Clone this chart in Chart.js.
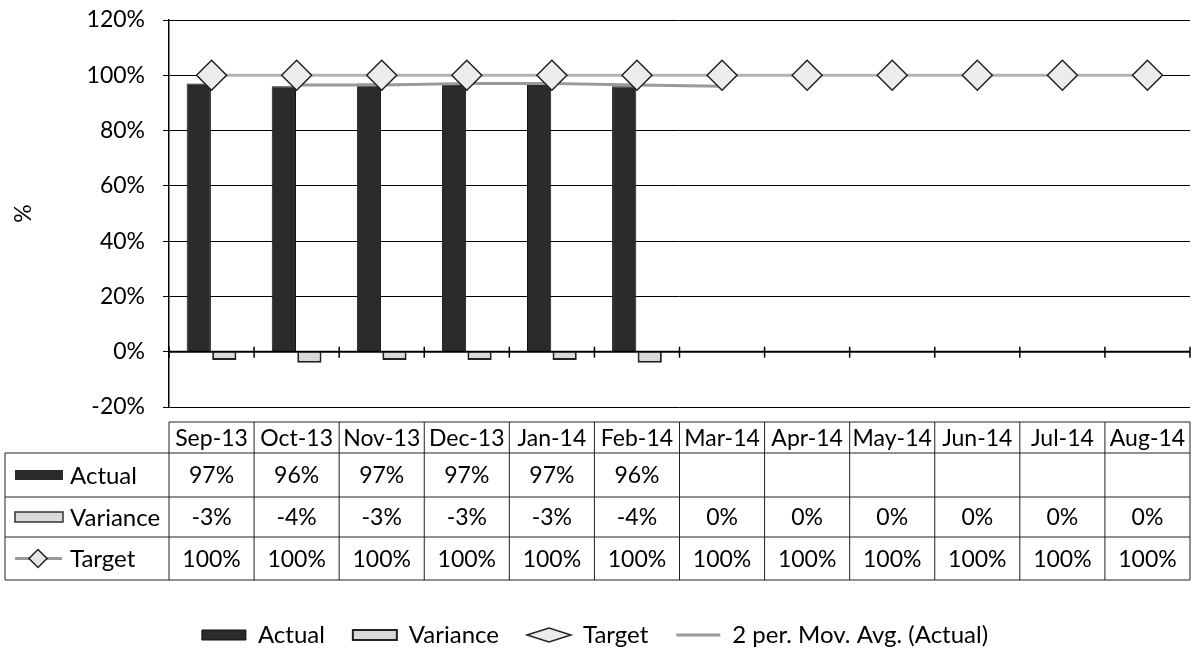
<!DOCTYPE html>
<html>
<head>
<meta charset="utf-8">
<script src="https://cdn.jsdelivr.net/npm/chart.js@4.4.0/dist/chart.umd.min.js"></script>
<style>
  html, body { margin: 0; padding: 0; background: #fff; overflow: hidden; }
  #wrap { width: 1193px; height: 650px; }
  #wrap canvas { display: block; }
</style>
</head>
<body>
<div id="wrap"><canvas id="chart_actual_variance"></canvas></div>
<script>
const months = ['Sep-13', 'Oct-13', 'Nov-13', 'Dec-13', 'Jan-14', 'Feb-14', 'Mar-14', 'Apr-14', 'May-14', 'Jun-14', 'Jul-14', 'Aug-14'];
const actualList = [97, 96, 97, 97, 97, 96, null, null, null, null, null, null];
const varianceList = [-3, -4, -3, -3, -3, -4, 0, 0, 0, 0, 0, 0];
const targetList = [100, 100, 100, 100, 100, 100, 100, 100, 100, 100, 100, 100];
const movAvgList = [null, 96.5, 96.5, 97, 97, 96.5, 96, null, null, null, null, null];
const yTicks = [-20, 0, 20, 40, 60, 80, 100, 120];

const fontName = 'Lato, "Liberation Sans", sans-serif';

// data table under the plot, drawn from the same arrays as the chart
const dataTablePlugin = {
  id: 'dataTable',
  afterDraw(chart) {
    const ctx = chart.ctx;
    const x = chart.scales.x;
    const y = chart.scales.y;
    const area = chart.chartArea;
    const rowLines = [422, 453, 497, 537, 580];
    const labelLeft = 5;
    const colW = (area.right - area.left) / months.length;

    ctx.save();

    // x axis line at 0% with tick marks at category borders
    const y0 = y.getPixelForValue(0);
    ctx.strokeStyle = '#000';
    ctx.lineWidth = 2;
    ctx.beginPath();
    ctx.moveTo(area.left, y0);
    ctx.lineTo(area.right, y0);
    ctx.stroke();
    ctx.lineWidth = 1.5;
    for (let i = 0; i <= months.length; i++) {
      const px = area.left + colW * i;
      ctx.beginPath();
      ctx.moveTo(px, y0 - 5);
      ctx.lineTo(px, y0 + 6);
      ctx.stroke();
    }

    // grid of the table
    ctx.lineWidth = 1;
    ctx.strokeStyle = '#222';
    ctx.beginPath();
    ctx.moveTo(area.left, rowLines[0]);
    ctx.lineTo(area.right, rowLines[0]);
    for (let r = 1; r < rowLines.length; r++) {
      ctx.moveTo(labelLeft, rowLines[r]);
      ctx.lineTo(area.right, rowLines[r]);
    }
    for (let i = 0; i <= months.length; i++) {
      const px = area.left + colW * i;
      ctx.moveTo(px, rowLines[0]);
      ctx.lineTo(px, rowLines[4]);
    }
    ctx.moveTo(labelLeft, rowLines[1]);
    ctx.lineTo(labelLeft, rowLines[4]);
    ctx.stroke();

    // text
    ctx.fillStyle = '#000';
    ctx.font = '23px ' + fontName;
    ctx.textBaseline = 'middle';
    ctx.textAlign = 'center';
    const rows = [
      months,
      actualList.map(v => v == null ? '' : v + '%'),
      varianceList.map(v => v == null ? '' : v + '%'),
      targetList.map(v => v == null ? '' : v + '%')
    ];
    for (let r = 0; r < rows.length; r++) {
      const cy = (rowLines[r] + rowLines[r + 1]) / 2 + 1;
      for (let i = 0; i < months.length; i++) {
        ctx.fillText(rows[r][i], x.getPixelForValue(i), cy);
      }
    }

    // row labels with small keys
    const names = ['Actual', 'Variance', 'Target'];
    ctx.font = '24px ' + fontName;
    ctx.textAlign = 'left';
    for (let r = 0; r < 3; r++) {
      const cy = (rowLines[r + 1] + rowLines[r + 2]) / 2;
      if (r == 0) {
        ctx.fillStyle = '#2b2b2b';
        ctx.fillRect(15, cy - 5, 48, 10);
      } else if (r == 1) {
        ctx.fillStyle = '#d9d9d9';
        ctx.strokeStyle = '#333';
        ctx.lineWidth = 1.5;
        ctx.fillRect(15, cy - 5, 48, 10);
        ctx.strokeRect(15, cy - 5, 48, 10);
      } else {
        ctx.strokeStyle = '#999';
        ctx.lineWidth = 3;
        ctx.beginPath();
        ctx.moveTo(15, cy);
        ctx.lineTo(62, cy);
        ctx.stroke();
        ctx.fillStyle = '#e6e6e6';
        ctx.strokeStyle = '#222';
        ctx.lineWidth = 1.5;
        ctx.beginPath();
        ctx.moveTo(38, cy - 9);
        ctx.lineTo(47, cy);
        ctx.lineTo(38, cy + 9);
        ctx.lineTo(29, cy);
        ctx.closePath();
        ctx.fill();
        ctx.stroke();
      }
      ctx.fillStyle = '#000';
      ctx.fillText(names[r], 70, cy + 1);
    }

    ctx.restore();
  }
};

new Chart(document.getElementById('chart_actual_variance'), {
  type: 'bar',
  data: {
    labels: months,
    datasets: [{
        label: 'Actual',
        data: actualList,
        backgroundColor: '#2b2b2b',
        borderColor: '#111',
        borderWidth: 1,
        pointStyle: 'rect',
        categoryPercentage: 0.6,
        barPercentage: 0.95,
        order: 3
      }, {
        label: 'Variance',
        data: varianceList,
        backgroundColor: '#d9d9d9',
        borderColor: '#222',
        borderWidth: 2,
        pointStyle: 'rect',
        categoryPercentage: 0.6,
        barPercentage: 0.95,
        order: 4
      }, {
        type: 'line',
        label: 'Target',
        data: targetList,
        borderColor: '#b3b3b3',
        borderWidth: 3,
        backgroundColor: '#e6e6e6',
        pointStyle: 'rectRot',
        pointRadius: 15,
        pointBackgroundColor: '#ececec',
        pointBorderColor: '#222',
        pointBorderWidth: 1.5,
        order: 1
      }, {
        type: 'line',
        label: '2 per. Mov. Avg. (Actual)',
        data: movAvgList,
        borderColor: '#9a9a9a',
        borderWidth: 3,
        backgroundColor: '#9a9a9a',
        pointStyle: 'line',
        pointRadius: 0,
        order: 2
      }]
  },
  options: {
    responsive: true,
    maintainAspectRatio: false,
    animation: false,
    layout: { autoPadding: false, padding: { top: 20, right: 3, left: 0, bottom: -7 } },
    plugins: {
      tooltip: { enabled: false },
      legend: {
        position: 'bottom',
        labels: {
          usePointStyle: true,
          pointStyleWidth: 44,
          boxHeight: 10,
          padding: 28,
          color: '#000',
          font: { family: fontName, size: 24 },
          sort: (a, b) => a.datasetIndex - b.datasetIndex
        }
      }
    },
    scales: {
      x: {
        offset: true,
        grid: { display: false },
        border: { display: false },
        ticks: { display: false },
        afterFit(scale) {
          scale.height = 188;
          scale.paddingLeft = 0;
          scale.paddingRight = 0;
        }
      },
      y: {
        min: -20,
        max: 120,
        afterFit(scale) {
          scale.width = 169;
          scale.paddingTop = 0;
          scale.paddingBottom = 0;
        },
        afterBuildTicks(scale) { scale.ticks = yTicks.map(v => ({ value: v })); },
        grid: { color: '#000', lineWidth: 1, tickLength: 6, drawTicks: true },
        border: { color: '#000', width: 1.5 },
        ticks: {
          padding: 18,
          color: '#000',
          font: { family: fontName, size: 23 },
          callback: v => v + '%'
        },
        title: {
          display: true,
          text: '%',
          color: '#000',
          padding: { top: 10, bottom: 4 },
          font: { family: fontName, size: 23 }
        }
      }
    }
  },
  plugins: [dataTablePlugin]
});
</script>
</body>
</html>
